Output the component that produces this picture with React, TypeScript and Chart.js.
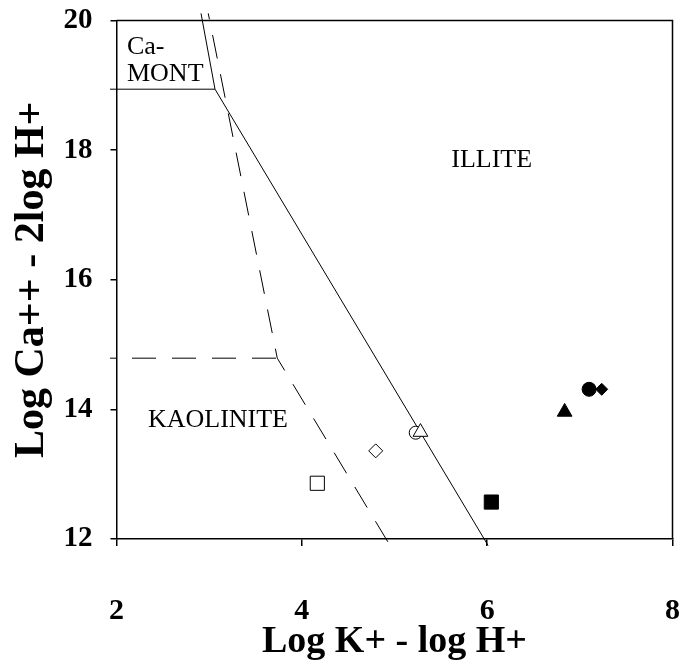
import { useEffect, useRef } from 'react';
import { Chart, registerables } from 'chart.js';

Chart.register(...registerables);

// ---- data ----
const xTicks = [2, 4, 6, 8];
const yTicks = [12, 14, 16, 18, 20];

// samples: open square, open diamond, open triangle, open circle, filled square, filled triangle, filled circle, filled diamond
const sampleK = [4.167, 4.797, 5.28, 5.229, 6.045, 6.836, 7.1, 7.236];
const sampleCa = [12.86, 13.36, 13.65, 13.64, 12.57, 13.96, 14.31, 14.31];

// stability field boundaries (solid)
const illiteBoundaryK = [2.912, 3.063, 6.01];
const illiteBoundaryCa = [20.11, 18.94, 11.9];
const montBoundaryK = [1.93, 3.063];
const montBoundaryCa = [18.94, 18.94];
// dashed boundaries
const kaolBoundaryK = [2.99, 3.735, 4.96];
const kaolBoundaryCa = [20.11, 14.79, 11.88];
const kaolTopK = [1.93, 3.735];
const kaolTopCa = [14.79, 14.79];

// field labels
const fieldNames = ['Ca-', 'MONT', 'ILLITE', 'KAOLINITE'];
const fieldK = [2.113, 2.113, 6.049, 3.095];
const fieldCa = [19.49, 19.07, 17.74, 13.73];

// ---- styles ----
const FONT = 'Liberation Serif';
const FIELD_ALIGN: CanvasTextAlign[] = ['left', 'left', 'center', 'center'];
const MARKERS = [
  { style: 'rect', filled: false, radius: 10 },
  { style: 'rectRot', filled: false, radius: 7 },
  { style: 'triangle', filled: false, radius: 8.5 },
  { style: 'circle', filled: false, radius: 6.5 },
  { style: 'rect', filled: true, radius: 10 },
  { style: 'triangle', filled: true, radius: 8.5 },
  { style: 'circle', filled: true, radius: 7 },
  { style: 'rectRot', filled: true, radius: 6 },
];

const toPts = (xs: number[], ys: number[]) => xs.map((x, i) => ({ x, y: ys[i] }));

const lineDs = (xs: number[], ys: number[], dashed: boolean) => ({
  data: toPts(xs, ys),
  showLine: true,
  borderColor: '#000',
  borderWidth: 1,
  borderDash: dashed ? [24, 16] : [],
  borderDashOffset: dashed ? 18 : 0,
  pointRadius: 0,
  pointHoverRadius: 0,
  fill: false,
  tension: 0,
  clip: false as any,
});

const annotate = {
  id: 'annotate',
  afterDatasetsDraw(chart: any) {
    const { ctx, chartArea: a, scales } = chart;
    const x = scales.x;
    const y = scales.y;
    ctx.save();
    ctx.strokeStyle = '#000';
    ctx.lineWidth = 1.5;
    ctx.beginPath();
    ctx.moveTo(a.left, a.top);
    ctx.lineTo(a.right, a.top);
    ctx.lineTo(a.right, a.bottom);
    ctx.stroke();
    ctx.fillStyle = '#000';
    ctx.font = `26px "${FONT}"`;
    ctx.textBaseline = 'alphabetic';
    fieldNames.forEach((t, i) => {
      ctx.textAlign = FIELD_ALIGN[i];
      ctx.fillText(t, x.getPixelForValue(fieldK[i]), y.getPixelForValue(fieldCa[i]));
    });
    ctx.restore();
  },
};

export default function App() {
  const ref = useRef<HTMLCanvasElement | null>(null);

  useEffect(() => {
    if (!ref.current) return;
    const markerSets = MARKERS.map((m, i) => ({
      data: [{ x: sampleK[i], y: sampleCa[i] }],
      showLine: false,
      pointStyle: m.style as any,
      pointRadius: m.radius,
      pointHoverRadius: m.radius,
      pointBackgroundColor: m.filled ? '#000' : '#fff',
      pointBorderColor: '#000',
      pointBorderWidth: 1,
      clip: false as any,
    }));
    const chart = new Chart(ref.current, {
      type: 'scatter',
      data: {
        datasets: [
          ...markerSets,
          lineDs(illiteBoundaryK, illiteBoundaryCa, false),
          lineDs(montBoundaryK, montBoundaryCa, false),
          lineDs(kaolBoundaryK, kaolBoundaryCa, true),
          lineDs(kaolTopK, kaolTopCa, true),
        ] as any,
      },
      options: {
        animation: false,
        responsive: false,
        maintainAspectRatio: false,
        events: [],
        layout: { padding: { top: 20.5, right: 11.5, left: 0, bottom: 0 } },
        plugins: { legend: { display: false }, tooltip: { enabled: false } },
        scales: {
          x: {
            type: 'linear',
            min: 2,
            max: 8,
            afterBuildTicks: (s: any) => {
              s.ticks = xTicks.map((v) => ({ value: v }));
            },
            afterFit: (s: any) => {
              s.height = 127;
              s.paddingLeft = 0;
              s.paddingRight = 0;
              s.paddingTop = 0;
              s.paddingBottom = 0;
            },
            grid: { drawOnChartArea: false, drawTicks: true, tickLength: 7, color: '#000', lineWidth: 1.5 },
            border: { display: true, color: '#000', width: 1.5 },
            ticks: {
              color: '#000',
              padding: 47,
              maxRotation: 0,
              font: { family: FONT, size: 30, weight: 'bold' },
            },
            title: {
              display: true,
              text: 'Log K+ - log H+',
              color: '#000',
              font: { family: FONT, size: 38, weight: 'bold' },
              padding: { top: 0, bottom: 1 },
            },
          },
          y: {
            type: 'linear',
            min: 12,
            max: 20,
            afterBuildTicks: (s: any) => {
              s.ticks = yTicks.map((v) => ({ value: v }));
            },
            afterFit: (s: any) => {
              s.width = 116.5;
              s.paddingLeft = 0;
              s.paddingRight = 0;
              s.paddingTop = 0;
              s.paddingBottom = 0;
            },
            grid: { drawOnChartArea: false, drawTicks: true, tickLength: 6, color: '#000', lineWidth: 1.5 },
            border: { display: true, color: '#000', width: 1.5 },
            ticks: {
              color: '#000',
              padding: 18,
              font: { family: FONT, size: 29, weight: 'bold' },
            },
            title: {
              display: true,
              text: 'Log Ca++ - 2log H+',
              color: '#000',
              font: { family: FONT, size: 42, weight: 'bold' },
              padding: { top: 7, bottom: 0 },
            },
          },
        },
      },
      plugins: [annotate],
    });
    return () => chart.destroy();
  }, []);

  return (
    <div style={{ position: 'absolute', left: 0, top: 0, width: 684, height: 666 }}>
      <canvas ref={ref} width={684} height={666} style={{ width: 684, height: 666, display: 'block' }} />
    </div>
  );
}
